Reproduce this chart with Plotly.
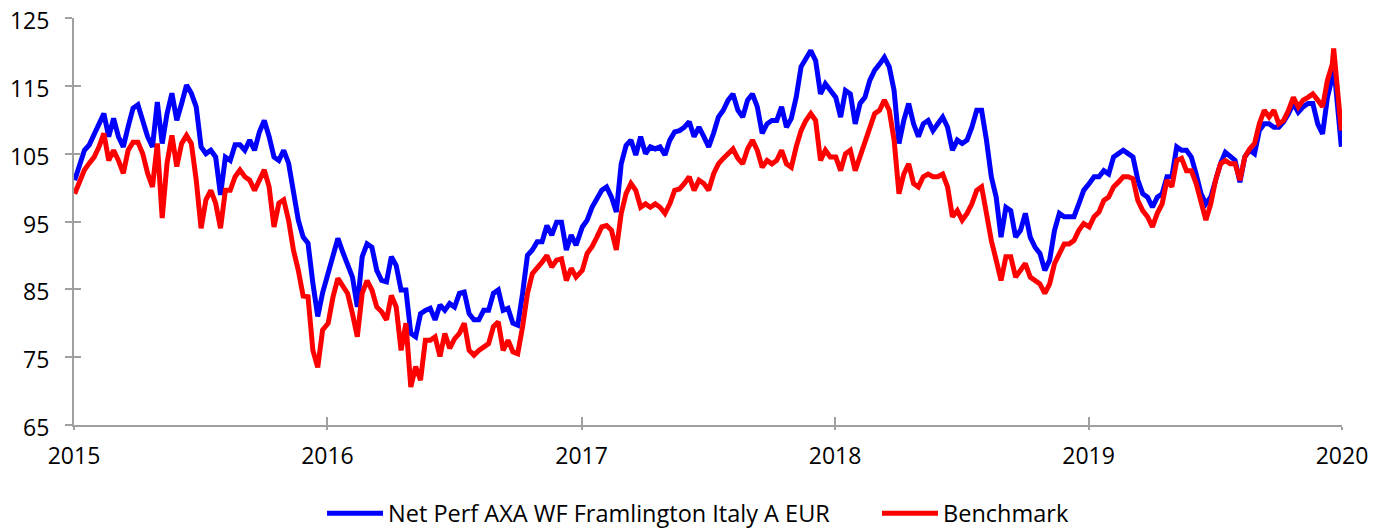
import pandas as pd
import plotly.graph_objects as go

years = [2015, 2016, 2017, 2018, 2019]

fund_2015 = [101.1,103.6,105.5,106.3,107.7,109.2,110.9,107.5,110.2,107.5,106.0,109.0,111.7,112.2,109.9,107.5,106.0,112.6,106.5,110.9,113.9,109.9,112.4,115.1,113.9,111.9,106.0,105.0,105.5,104.5,98.9,104.5,104.0,106.3,106.3,105.5,107.0,105.5,108.2,109.9,107.5,104.5,104.0,105.5,103.6,99.6,95.2,92.7,91.8,85.9,81.0,84.5]
bench_2015 = [99.1,101.1,102.6,103.6,104.5,106.0,108.0,104.0,105.5,104.0,102.1,105.5,106.7,106.7,105.0,102.1,100.1,106.5,95.5,103.6,107.7,103.1,106.5,107.7,106.5,101.1,94.0,98.2,99.6,97.7,94.0,99.6,99.6,101.6,102.6,101.6,101.1,99.6,101.1,102.6,100.1,94.2,97.7,98.2,95.2,90.8,87.8,84.0,83.9,76.0,73.5,79.0]

fund_2016 = [87.3,89.5,92.5,90.5,88.8,86.8,82.4,89.8,91.7,91.2,87.8,86.3,86.1,89.8,88.5,84.9,84.9,78.5,78.0,81.4,81.9,82.2,80.5,82.7,81.9,82.9,82.4,84.4,84.6,81.4,80.5,80.5,81.9,81.9,84.4,84.9,81.9,82.2,80.0,79.7,84.4,90.0,90.8,92.0,92.0,94.4,93.0,94.9,94.9,90.8,93.0,91.5]
bench_2016 = [80.0,83.9,86.6,85.4,84.4,81.4,78.0,84.4,86.3,84.9,82.4,81.7,80.5,84.1,82.4,76.0,80.0,70.6,73.6,71.6,77.5,77.5,78.0,75.1,78.5,76.3,77.7,78.5,80.0,76.0,75.3,76.0,76.5,77.0,79.5,80.2,76.0,77.5,75.8,75.5,79.5,84.4,87.3,88.1,89.0,90.0,88.3,89.3,89.5,86.3,88.1,86.8]

fund_2017 = [94.2,95.2,97.1,98.4,99.6,100.1,98.6,96.4,103.5,106.2,107.0,104.8,107.5,105.0,106.0,105.7,106.0,104.8,107.0,108.2,108.4,108.9,109.7,107.5,108.9,107.5,106.0,108.0,110.4,111.4,112.9,113.8,111.4,110.4,112.9,113.8,111.9,108.0,109.4,109.9,109.9,111.9,108.9,110.2,113.3,117.8,119.2,120.2,118.7,113.8,115.3,114.3]
bench_2017 = [87.8,90.3,91.3,92.7,94.2,94.4,93.7,90.8,96.2,99.1,100.6,99.6,97.1,97.6,97.1,97.6,97.1,96.2,97.6,99.6,99.8,100.6,101.6,99.6,101.1,100.6,99.6,102.0,103.5,104.3,105.0,105.7,104.3,103.5,105.7,107.0,105.5,103.0,104.0,103.5,104.0,105.5,103.5,103.0,106.0,108.4,109.9,110.9,109.9,104.0,105.5,104.5]

fund_2018 = [113.3,110.4,114.3,113.8,109.4,112.4,113.3,115.8,117.3,118.2,119.2,117.8,114.3,106.5,109.9,112.4,109.4,107.5,109.4,109.9,108.4,109.4,110.4,108.9,105.5,107.0,106.5,107.0,108.9,111.4,111.4,107.0,101.6,98.6,92.7,97.1,96.6,92.7,93.7,96.2,92.7,91.2,90.3,87.8,89.3,93.7,96.2,95.7,95.7,95.7,97.6,99.6]
bench_2018 = [104.5,102.5,105.0,105.5,102.5,104.5,107.0,108.9,110.9,111.4,112.9,111.4,107.0,99.1,102.0,103.5,100.6,100.1,101.6,102.0,101.6,101.6,102.0,100.1,95.7,96.6,95.2,96.2,97.6,99.6,100.1,96.2,92.2,89.3,86.3,89.8,89.8,86.8,87.8,88.8,86.8,86.3,85.8,84.4,85.8,88.8,90.3,91.7,91.7,92.2,93.7,94.7]

fund_2019 = [100.6,101.6,101.6,102.5,102.0,104.5,105.0,105.5,105.0,104.5,101.1,99.1,98.6,97.1,98.6,99.1,101.6,101.6,106.0,105.5,105.5,104.5,102.0,99.1,97.6,98.6,101.1,103.5,105.2,104.5,104.0,100.8,104.5,105.5,105.0,108.4,109.4,109.4,108.9,108.9,109.7,110.9,112.4,111.1,111.9,112.4,112.4,109.4,107.9,113.3,116.3,118.2,106.0]
bench_2019 = [94.2,95.7,96.4,98.1,98.6,100.1,100.8,101.6,101.6,101.3,98.1,96.6,95.7,94.2,96.2,97.6,101.1,100.1,104.0,104.3,102.5,102.5,100.6,97.6,95.2,97.6,101.1,103.5,104.0,103.5,103.5,101.1,104.5,105.7,106.5,109.4,111.4,110.4,111.4,109.4,109.9,111.4,113.3,111.9,112.9,113.3,113.8,112.9,111.9,115.8,118.2,120.5,108.4]

fund_name = "Net Perf AXA WF Framlington Italy A EUR"
bench_name = "Benchmark"
y_ticks = [65, 75, 85, 95, 105, 115, 125]
x_ticks = ["2015", "2016", "2017", "2018", "2019", "2020"]

fund = fund_2015 + fund_2016 + fund_2017 + fund_2018 + fund_2019
bench = bench_2015 + bench_2016 + bench_2017 + bench_2018 + bench_2019

dates = []
for y in years:
    dates += list(pd.date_range(f"{y}-01-02", periods=52, freq="7D"))
dates[-1] = pd.Timestamp("2019-12-20")
dates.append(pd.Timestamp("2019-12-31"))

FONT = "Open Sans"
AX = "#a0a0a0"

fig = go.Figure()
fig.add_trace(go.Scatter(x=dates, y=fund, mode="lines", name=fund_name, legend="legend",
                         line=dict(color="#0000ff", width=5)))
fig.add_trace(go.Scatter(x=dates, y=bench, mode="lines", name=bench_name, legend="legend2",
                         line=dict(color="#ff0000", width=5)))
# helper trace for overlay axes (crossing tick marks)
fig.add_trace(go.Scatter(x=[dates[0]], y=[100], xaxis="x2", yaxis="y2",
                         mode="markers", marker=dict(opacity=0),
                         showlegend=False, hoverinfo="skip"))

xr = ["2015-01-01", "2020-01-01"]
yr = [65, 125]
leg_common = dict(orientation="h", xanchor="left", xref="container",
                  y=0.03, yanchor="middle", yref="container",
                  font=dict(family=FONT, size=23.5), itemwidth=56)
fig.update_layout(
    width=1375, height=521,
    margin=dict(l=66, r=41, t=10, b=104, autoexpand=False),
    paper_bgcolor="white", plot_bgcolor="white",
    font=dict(family=FONT, size=23, color="#000000"),
    showlegend=True,
    legend=dict(x=0.2284, **leg_common),
    legend2=dict(x=0.632, **leg_common),
    xaxis=dict(type="date", range=xr, tickvals=[f"{t}-01-01" for t in x_ticks], ticktext=x_ticks,
               showgrid=False, zeroline=False, showline=True, linecolor=AX, linewidth=2,
               ticks="outside", ticklen=3, tickwidth=2, tickcolor=AX, ticklabelstandoff=6,
               automargin=False, ticklabeloverflow="allow", tickfont=dict(family=FONT, size=23)),
    yaxis=dict(range=yr, tickvals=y_ticks, showgrid=False, zeroline=False,
               showline=True, linecolor=AX, linewidth=2,
               ticks="outside", ticklen=7, tickwidth=2, tickcolor=AX, ticklabelstandoff=11,
               ticklabelshift=3,
               automargin=False, ticklabeloverflow="allow", tickfont=dict(family=FONT, size=23)),
    xaxis2=dict(type="date", range=xr, overlaying="x", anchor="y2",
                tickvals=[f"{t}-01-01" for t in x_ticks], showticklabels=False,
                showgrid=False, zeroline=False, showline=False, automargin=False,
                ticks="inside", ticklen=8, tickwidth=2, tickcolor=AX),
    yaxis2=dict(range=yr, overlaying="y", anchor="x2", side="left", tickvals=y_ticks,
                showticklabels=False, showgrid=False, zeroline=False, showline=False,
                automargin=False, ticks="inside", ticklen=7, tickwidth=2, tickcolor=AX),
)

fig.write_html("out.html")
